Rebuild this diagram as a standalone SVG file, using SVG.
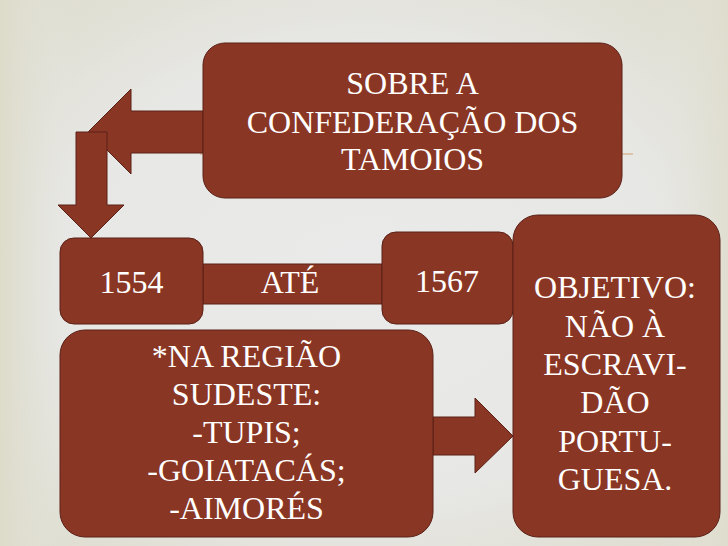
<svg xmlns="http://www.w3.org/2000/svg" width="728" height="546" viewBox="0 0 728 546">
<defs>
<radialGradient id="bg" cx="0.5" cy="0.5" r="0.75">
<stop offset="0" stop-color="#eaeaea"/>
<stop offset="0.55" stop-color="#e7e7e5"/>
<stop offset="1" stop-color="#dcdac8"/>
</radialGradient>
<linearGradient id="lg" x1="0" y1="0" x2="1" y2="0">
<stop offset="0" stop-color="#dddbc9" stop-opacity="1"/>
<stop offset="0.1" stop-color="#e6e6e2" stop-opacity="0"/>
<stop offset="0.9" stop-color="#e6e6e2" stop-opacity="0"/>
<stop offset="1" stop-color="#dfddcd" stop-opacity="0.8"/>
</linearGradient>
</defs>
<style>
.s{fill:#8a3624;stroke:#5a2016;stroke-width:1}
.t{fill:#ffffff;font-size:32px;text-anchor:middle}
</style>
<rect width="728" height="546" fill="url(#bg)"/>
<rect width="728" height="546" fill="url(#lg)"/>
<line x1="200" y1="154" x2="633" y2="154" stroke="#d8b898" stroke-width="1.5"/>
<g id="connectors">
<polygon class="s" points="203,111 131,111 131,89 88.5,131.5 131,174 131,153 203,153"/>
<polygon class="s" points="76,132 107,132 107,205 124,205 91,238 58,205 76,205"/>
<polygon class="s" points="433,417 475,417 475,398 513,436 475,473 475,455 433,455"/>
<rect class="s" x="203" y="264" width="179" height="40"/>
</g>
<g font-family="'Liberation Serif', 'Times New Roman', 'DejaVu Serif', serif">
<g id="ate">
<text class="t" x="290" y="293">ATÉ</text>
</g>
<g id="sobre">
<rect class="s" x="203" y="43" width="419" height="155" rx="22"/>
<text class="t" x="412.5" y="94">SOBRE A</text>
<text class="t" x="412.5" y="133">CONFEDERAÇÃO DOS</text>
<text class="t" x="412.5" y="170">TAMOIOS</text>
</g>
<g id="y1554">
<rect class="s" x="60" y="238" width="143" height="86" rx="14"/>
<text class="t" x="131.5" y="293">1554</text>
</g>
<g id="y1567">
<rect class="s" x="382" y="232" width="131" height="92" rx="14"/>
<text class="t" x="447" y="292">1567</text>
</g>
<g id="regiao">
<rect class="s" x="60" y="330" width="373" height="207" rx="25"/>
<text class="t" x="246.5" y="367">*NA REGIÃO</text>
<text class="t" x="246.5" y="405">SUDESTE:</text>
<text class="t" x="246.5" y="443">-TUPIS;</text>
<text class="t" x="246.5" y="481">-GOIATACÁS;</text>
<text class="t" x="246.5" y="519">-AIMORÉS</text>
</g>
<g id="objetivo">
<rect class="s" x="513" y="215" width="207" height="322" rx="25"/>
<text class="t" x="615" y="298">OBJETIVO:</text>
<text class="t" x="615" y="337">NÃO À</text>
<text class="t" x="615" y="375">ESCRAVI-</text>
<text class="t" x="615" y="413">DÃO</text>
<text class="t" x="615" y="452">PORTU-</text>
<text class="t" x="615" y="490">GUESA.</text>
</g>
</g>
</svg>
